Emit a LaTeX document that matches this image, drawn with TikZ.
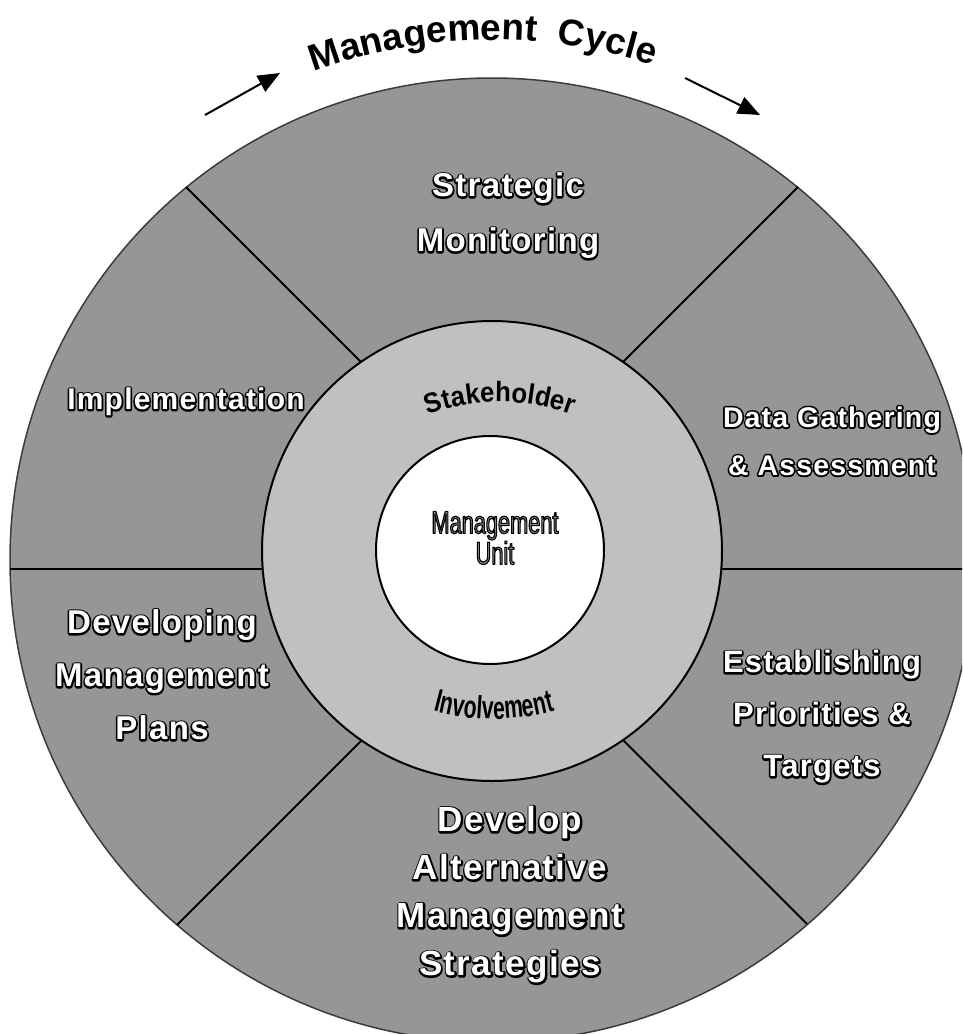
\documentclass[tikz,border=0pt]{standalone}
\usepackage{fontspec}
\setmainfont{Liberation Sans}
\newfontfamily\lblfont[LetterSpace=4]{Liberation Sans}
\newfontfamily\narrowfont[FakeStretch=0.68]{Liberation Sans}
\newfontfamily\involvefont[FakeStretch=0.66]{Liberation Sans}
\newfontfamily\stakefont[FakeStretch=0.92]{Liberation Sans}
\usetikzlibrary{arrows.meta,decorations.text}
\definecolor{outerg}{RGB}{150,150,150}
\definecolor{ringg}{RGB}{192,192,192}
\definecolor{edgeg}{RGB}{60,60,60}
% outlined text: a black stroked copy underneath, the filled text on top
\newcommand\olbl[1]{\rlap{\special{pdf:literal direct 1 Tr 3.4 w 0 G 1 j}#1\special{pdf:literal direct 0 Tr}}#1}
\newcommand\othin[1]{\special{pdf:literal direct 2 Tr 1.1 w 0 G 1 j}#1\special{pdf:literal direct 0 Tr}}
\tikzset{
  x=1pt, y=1pt,
  lbl/.style={text=white, align=center, inner sep=0pt},
  divider/.style={draw=black, line width=2pt},
  cyclearrow/.style={draw=black, line width=2pt, -{Triangle[length=22pt,width=18pt]}}
}
\begin{document}
\begin{tikzpicture}
\useasboundingbox (0,-1034) rectangle (962,0);
\clip (0,-1034) rectangle (962,0);
% centres
\coordinate (C) at (492,-560);
\coordinate (R) at (492,-551);
\coordinate (W) at (490,-550);
% outer disc
\fill[outerg] (C) circle[radius=482];
\draw[edgeg, line width=1.5pt] (C) circle[radius=482];
% divider end points
\coordinate (ulo) at (186,-187);  \coordinate (uli) at (361,-362);
\coordinate (uro) at (798,-187);  \coordinate (uri) at (623,-362);
\coordinate (lo)  at (10,-569);   \coordinate (li)  at (263,-569);
\coordinate (ro)  at (974,-569);  \coordinate (ri)  at (721,-569);
\coordinate (llo) at (177,-925);  \coordinate (lli) at (361,-741);
\coordinate (lro) at (807,-924);  \coordinate (lri) at (623,-740);
\draw[divider] (ulo) -- (uli);
\draw[divider] (uro) -- (uri);
\draw[divider] (lo) -- (li);
\draw[divider] (ro) -- (ri);
\draw[divider] (llo) -- (lli);
\draw[divider] (lro) -- (lri);
% stakeholder ring
\filldraw[fill=ringg, draw=black, line width=2pt] (R) circle[radius=230];
% management unit disc
\filldraw[fill=white, draw=black, line width=2pt] (W) circle[radius=114];
% sector labels
\node[lbl, font=\lblfont\bfseries\fontsize{33}{55}\selectfont] (sm) at (508,-216)
  {\olbl{Strategic}\\\olbl{Monitoring}};
\node[lbl, font=\lblfont\bfseries\fontsize{28.5}{48}\selectfont] (dg) at (832,-441)
  {\olbl{Data Gathering}\\\olbl{\& Assessment}};
\node[lbl, font=\lblfont\bfseries\fontsize{31}{52}\selectfont] (ep) at (822,-717)
  {\olbl{Establishing}\\\olbl{Priorities \&}\\\olbl{Targets}};
\node[lbl, font=\lblfont\bfseries\fontsize{35}{48}\selectfont] (da) at (510,-895)
  {\olbl{Develop}\\\olbl{Alternative}\\\olbl{Management}\\\olbl{Strategies}};
\node[lbl, font=\lblfont\bfseries\fontsize{33}{53}\selectfont] (dm) at (162,-675)
  {\olbl{Developing}\\\olbl{Management}\\\olbl{Plans}};
\node[lbl, font=\lblfont\bfseries\fontsize{30}{40}\selectfont] (im) at (186,-402)
  {\olbl{Implementation}};
% centre label
\node[align=center, inner sep=0pt, text=black!45, font=\narrowfont\fontsize{32}{29}\selectfont] (mu) at (495,-538)
  {\othin{Management}\\\othin{Unit}};
% curved ring texts
\path[decorate, decoration={text along path, text align=center,
  text={|\stakefont\bfseries\fontsize{28}{28}\selectfont|Stakeholder}}]
  (500,-612) ++(122:210) arc[start angle=122, end angle=58, radius=210];
\path[decorate, decoration={text along path, text align=center,
  text={|\involvefont\bfseries\fontsize{32}{32}\selectfont|Involvement}}]
  (494,-486) ++(240:233) arc[start angle=240, end angle=300, radius=233];
% title
\path[decorate, decoration={text along path, text align=center,
  text={|\bfseries\fontsize{37}{37}\selectfont|Management\ \ Cycle}}]
  (C) ++(126:520) arc[start angle=126, end angle=56, radius=520];
% cycle arrows
\coordinate (a1s) at (205,-115); \coordinate (a1e) at (280,-73);
\coordinate (a2s) at (685,-78);  \coordinate (a2e) at (760,-115);
\draw[cyclearrow] (a1s) -- (a1e);
\draw[cyclearrow] (a2s) -- (a2e);
\end{tikzpicture}
\end{document}
